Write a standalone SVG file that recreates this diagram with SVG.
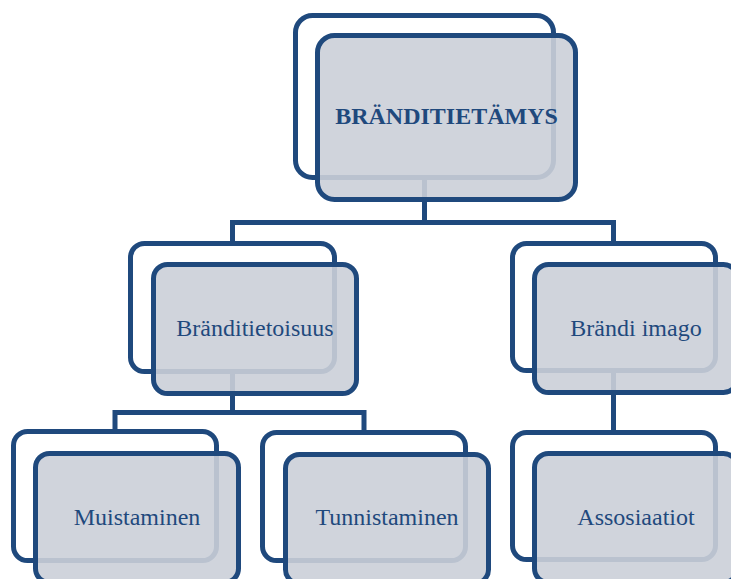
<svg xmlns="http://www.w3.org/2000/svg" width="731" height="579" viewBox="0 0 731 579">
  <style>
    .back { fill: #ffffff; stroke: #1f497d; stroke-width: 5; }
    .front { fill: #cbcfd8; fill-opacity: 0.9; stroke: #1f497d; stroke-width: 5; }
    .conn { fill: none; stroke: #1f497d; stroke-width: 5; }
    .label { font-family: "Liberation Serif", "Times New Roman", serif; font-size: 24px; fill: #1f497d; text-anchor: middle; }
    .title { font-weight: bold; }
  </style>

  <!-- connectors -->
  <g id="connectors">
    <path class="conn" d="M424.5 177 V222.5 M232.5 222.5 H613.5 M232.5 220 V243 M613.5 220 V243"/>
    <path class="conn" d="M232.5 371 V412.5 M115 412.5 H364 M115 410 V432 M364 410 V432"/>
    <path class="conn" d="M613.5 370 V432"/>
  </g>

  <!-- root -->
  <g id="node-branditietamys">
    <rect class="back" x="295.5" y="15.5" width="258" height="162" rx="17"/>
    <rect class="front" x="317.5" y="35.5" width="258" height="164" rx="17"/>
    <text class="label title" x="446.5" y="124">BRÄNDITIETÄMYS</text>
  </g>

  <g id="node-branditietoisuus">
    <rect class="back" x="130.5" y="243.5" width="204" height="128" rx="14"/>
    <rect class="front" x="153.5" y="264.5" width="203" height="129" rx="14"/>
    <text class="label" x="255" y="336">Bränditietoisuus</text>
  </g>

  <g id="node-brandi-imago">
    <rect class="back" x="512.5" y="243.5" width="203" height="127" rx="14"/>
    <rect class="front" x="534.5" y="264.5" width="203" height="128" rx="14"/>
    <text class="label" x="636" y="336">Brändi imago</text>
  </g>

  <g id="node-muistaminen">
    <rect class="back" x="13.5" y="431.5" width="203" height="129" rx="14"/>
    <rect class="front" x="35.5" y="453.5" width="203" height="129" rx="14"/>
    <text class="label" x="137" y="525">Muistaminen</text>
  </g>

  <g id="node-tunnistaminen">
    <rect class="back" x="262.5" y="432.5" width="203" height="128" rx="14"/>
    <rect class="front" x="285.5" y="454.5" width="203" height="129" rx="14"/>
    <text class="label" x="387" y="525">Tunnistaminen</text>
  </g>

  <g id="node-assosiaatiot">
    <rect class="back" x="512.5" y="432.5" width="203" height="127" rx="14"/>
    <rect class="front" x="534.5" y="453.5" width="203" height="129" rx="14"/>
    <text class="label" x="636" y="525">Assosiaatiot</text>
  </g>
</svg>
